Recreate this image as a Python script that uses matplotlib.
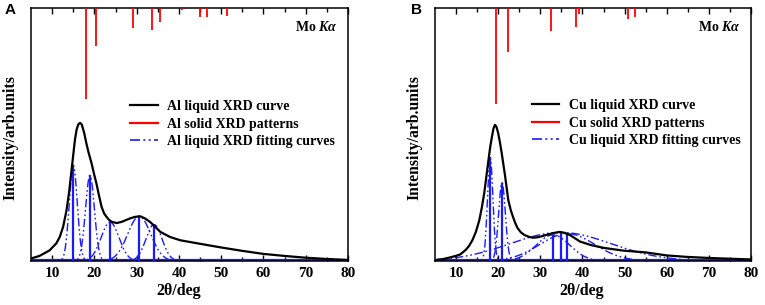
import numpy as np
import matplotlib
matplotlib.use("Agg")
import matplotlib.pyplot as plt
from matplotlib.lines import Line2D

plt.rcParams['font.family'] = ['Liberation Serif', 'DejaVu Serif']
plt.rcParams['font.weight'] = 'bold'
plt.rcParams['mathtext.fontset'] = 'custom'
plt.rcParams['mathtext.rm'] = 'Liberation Serif:bold'
plt.rcParams['mathtext.it'] = 'Liberation Serif:bold:italic'

# ---------------- Panel A (Al) ----------------
al_x = [5.0, 7.0, 9.4, 11.0, 11.8, 12.6, 13.4, 14.0, 14.6, 15.0, 15.4, 15.8, 16.2, 16.6,
        17.0, 17.6, 18.1, 18.6, 19.35, 19.9, 20.5, 21.1, 21.7, 22.3, 22.9, 23.5, 24.1,
        25.3, 26.5, 27.5, 28.4, 29.5, 30.8, 32.0, 33.2, 34.4, 35.6, 37.9, 40.3, 45.0,
        49.8, 55.0, 60.0, 65.0, 70.0, 75.0, 80.0]
al_y = [0.010, 0.020, 0.042, 0.070, 0.095, 0.135, 0.200, 0.270, 0.360, 0.420, 0.480, 0.520,
        0.540, 0.546, 0.540, 0.505, 0.465, 0.430, 0.385, 0.345, 0.305, 0.258, 0.214, 0.188,
        0.174, 0.162, 0.155, 0.150, 0.155, 0.162, 0.168, 0.174, 0.177, 0.168, 0.154, 0.135,
        0.115, 0.095, 0.082, 0.068, 0.054, 0.040, 0.028, 0.020, 0.013, 0.008, 0.004]
al_solid_pos = [18.0, 20.4, 29.1, 33.7, 35.6, 40.7, 44.9, 46.7, 51.3]
al_solid_int = [0.360, 0.149, 0.078, 0.087, 0.055, 0.008, 0.034, 0.034, 0.032]
al_fit_center = [15.0, 18.95, 23.7, 30.6, 34.1]
al_fit_amp = [0.379, 0.339, 0.154, 0.177, 0.144]
al_fit_sigma = [0.95, 1.05, 2.1, 2.7, 1.9]

# ---------------- Panel B (Cu) ----------------
cu_x = [5.0, 7.0, 8.3, 9.9, 11.0, 12.3, 13.1, 13.9, 14.7, 15.5, 16.1, 16.7, 17.2, 17.7,
        18.1, 18.5, 18.9, 19.24, 19.6, 20.0, 20.4, 20.8, 21.2, 21.6, 22.0, 22.4, 23.0,
        23.5, 24.0, 24.6, 25.4, 26.2, 27.2, 28.2, 29.4, 30.6, 31.8, 33.0, 34.6, 35.8,
        37.0, 38.2, 39.4, 42.0, 45.0, 49.7, 55.0, 60.0, 65.0, 70.0, 75.0, 80.0]
cu_y = [0.003, 0.008, 0.013, 0.020, 0.026, 0.044, 0.060, 0.083, 0.115, 0.160, 0.210, 0.270,
        0.335, 0.400, 0.450, 0.490, 0.525, 0.538, 0.530, 0.505, 0.470, 0.430, 0.385, 0.340,
        0.290, 0.240, 0.200, 0.175, 0.152, 0.130, 0.113, 0.103, 0.096, 0.092, 0.094, 0.099,
        0.105, 0.110, 0.115, 0.111, 0.103, 0.090, 0.077, 0.063, 0.052, 0.041, 0.034, 0.022,
        0.016, 0.012, 0.009, 0.006]
cu_solid_pos = [19.5, 22.4, 32.5, 38.4, 39.2, 50.8, 52.4]
cu_solid_int = [0.378, 0.175, 0.090, 0.076, 0.024, 0.042, 0.037]
cu_fit_center = [18.1, 20.9, 33.0, 34.8, 36.4]
cu_fit_amp = [0.410, 0.310, 0.103, 0.113, 0.108]
cu_fit_sigma = [0.65, 0.8, 4.0, 12.0, 6.5]

x_ticks = [10, 20, 30, 40, 50, 60, 70, 80]

RED = '#ff0000'
BLUE = '#1a1aff'
DASH = (0, (6, 2, 1.2, 2, 1.2, 2))

fig = plt.figure(figsize=(7.65, 3.05), dpi=100)
axA = fig.add_axes([31/765, 44/305, 317/765, 253/305])
axB = fig.add_axes([435/765, 44/305, 316/765, 253/305])


def draw(ax, bx, by, spos, sint, fc, fa, fs, elem, leg_xy, panel, panel_x):
    xs = np.linspace(5, 80, 1500)
    ax.plot([5, 80], [0.002, 0.002], color=BLUE, lw=1.6, zorder=2)
    for c, a, s in zip(fc, fa, fs):
        ax.plot(xs, a * np.exp(-0.5 * ((xs - c) / s) ** 2), color=BLUE, lw=1.0,
                linestyle=DASH, zorder=2)
        ax.vlines(c, 0, a, color=BLUE, lw=1.6, zorder=3)
    ax.plot(bx, by, color='black', lw=1.6, zorder=4, solid_joinstyle='round')
    ax.vlines(spos, [1 - v for v in sint], 1.0, color=RED, lw=1.3, zorder=3)

    ax.set_xlim(5, 80)
    ax.set_ylim(0, 1)
    ax.set_xticks(x_ticks)
    ax.set_xticks([15, 25, 35, 45, 55, 65, 75], minor=True)
    ax.set_yticks([])
    ax.tick_params(axis='x', which='both', direction='in', top=True, bottom=True,
                   labelsize=11, pad=4.5)
    ax.tick_params(axis='x', which='major', length=4, width=1.0)
    ax.tick_params(axis='x', which='minor', length=3, width=1.0)
    for lab in ax.get_xticklabels():
        lab.set_fontweight('bold')
    for sp in ax.spines.values():
        sp.set_linewidth(1.1)
    ax.set_xlabel('2θ/deg', fontsize=11.5, fontweight='bold', labelpad=1)
    ax.xaxis.set_label_coords(0.465, -0.085)
    ax.xaxis.label.set_va('top')
    ax.set_ylabel('Intensity/arb.units', fontsize=11.3, fontweight='bold')
    ax.yaxis.set_label_coords(-0.039, 0.486)
    ax.text(0.968, 0.925, r'Mo $Kα$', transform=ax.transAxes, ha='right', va='center',
            fontsize=10, fontweight='bold')

    handles = [Line2D([], [], color='black', lw=1.6),
               Line2D([], [], color=RED, lw=1.6),
               Line2D([], [], color=BLUE, lw=1.2, linestyle=DASH)]
    labels = [f'{elem} liquid XRD curve', f'{elem} solid XRD patterns',
              f'{elem} liquid XRD fitting curves']
    ax.legend(handles, labels, loc='upper left', bbox_to_anchor=leg_xy, frameon=False,
              borderpad=0, borderaxespad=0, handlelength=2.0, handletextpad=0.7,
              labelspacing=0.32, prop={'family': 'Liberation Serif', 'weight': 'bold',
                                       'size': 10})
    fig.text(panel_x / 765, 1 - 10.5 / 305, panel, fontsize=11, fontweight='bold',
             family='Liberation Sans', ha='left', va='center')


draw(axA, al_x, al_y, al_solid_pos, al_solid_int, al_fit_center, al_fit_amp, al_fit_sigma,
     'Al', (0.312, 0.635), 'A', 5)
draw(axB, cu_x, cu_y, cu_solid_pos, cu_solid_int, cu_fit_center, cu_fit_amp, cu_fit_sigma,
     'Cu', (0.306, 0.640), 'B', 411)

fig.savefig('out.png', dpi=100)
